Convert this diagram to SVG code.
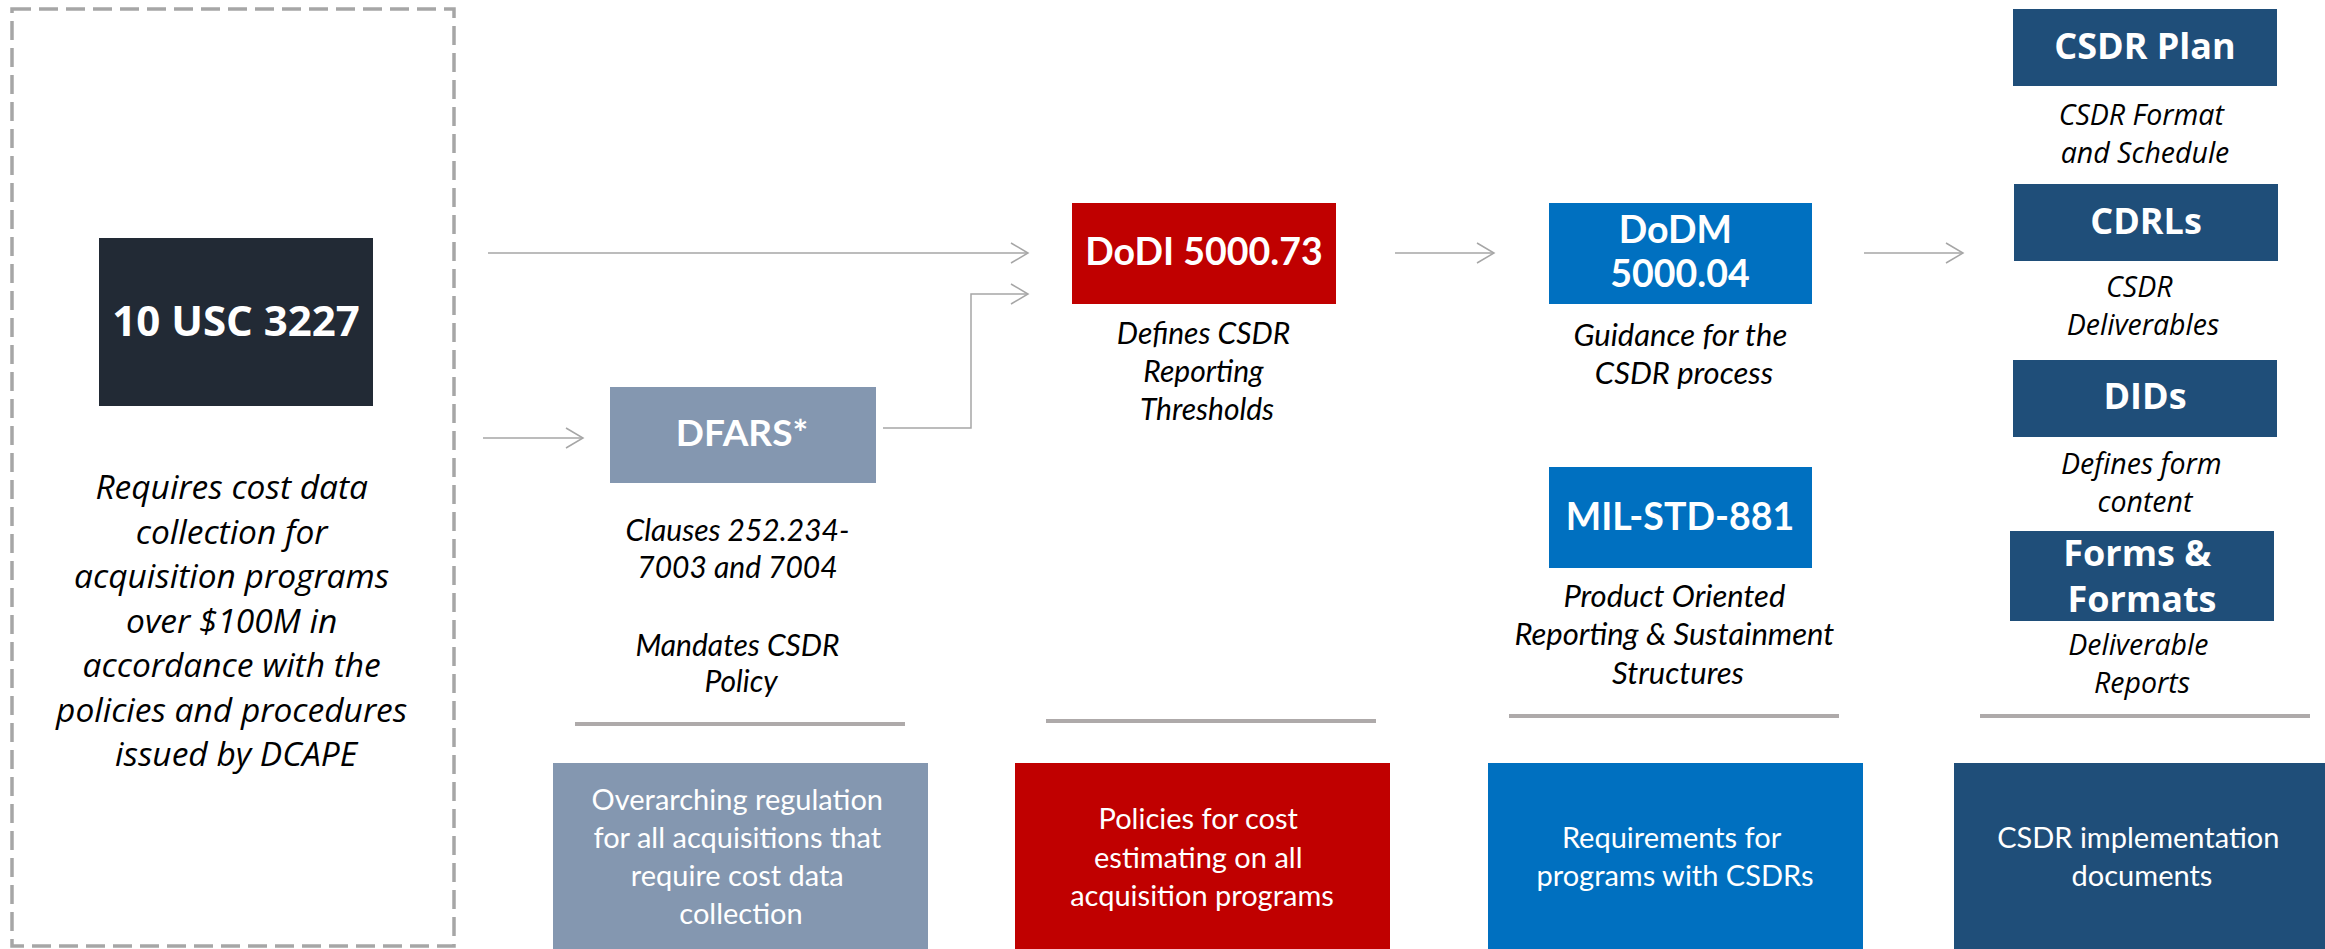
<svg xmlns="http://www.w3.org/2000/svg" width="2325" height="949" viewBox="0 0 2325 949">
<style>
.os{font-family:"Open Sans","DejaVu Sans",sans-serif;}
.ca{font-family:Lato,"Liberation Sans",sans-serif;}
.tb{font-weight:bold;fill:#ffffff;text-anchor:middle;}
.ti{font-style:italic;fill:#000000;text-anchor:middle;}
.tw{fill:#ffffff;text-anchor:middle;}
.conn{fill:none;stroke:#a6a6a6;stroke-width:1.5;}
.sep{stroke:#aeaaaa;stroke-width:4;}
</style>
<defs>
<marker id="arr" markerUnits="userSpaceOnUse" markerWidth="22" markerHeight="24" refX="19" refY="12" orient="auto">
<path d="M2,2 L19,12 L2,22" fill="none" stroke="#a6a6a6" stroke-width="1.5"/>
</marker>
</defs>
<g id="law-frame">
<rect x="12" y="9" width="442" height="937" fill="none" stroke="#a6a6a6" stroke-width="3.5" stroke-dasharray="19 8"/>
</g>
<g id="usc">
<rect x="99" y="238" width="274" height="168" fill="#222a35"/>
<text class="os tb" x="236" y="336" font-size="42">10 USC 3227</text>
<text class="os ti" font-size="33.5">
<tspan x="236" y="499">Requires cost data</tspan>
<tspan x="236" y="543.5">collection for</tspan>
<tspan x="236" y="588">acquisition programs</tspan>
<tspan x="236" y="632.5">over $100M in</tspan>
<tspan x="236" y="677">accordance with the</tspan>
<tspan x="236" y="721.5">policies and procedures</tspan>
<tspan x="236" y="766">issued by DCAPE</tspan>
</text>
</g>
<g id="dfars">
<rect x="610" y="387" width="266" height="96" fill="#8497b0"/>
<text class="ca tb" x="742" y="446" font-size="37">DFARS*</text>
<text class="ca ti" font-size="30">
<tspan x="741" y="541">Clauses 252.234-</tspan>
<tspan x="741" y="578">7003 and 7004</tspan>
<tspan x="741" y="656">Mandates CSDR</tspan>
<tspan x="741" y="692">Policy</tspan>
</text>
</g>
<g id="dodi">
<rect x="1072" y="203" width="264" height="101" fill="#c00000"/>
<text class="ca tb" x="1204" y="265" font-size="37.5">DoDI 5000.73</text>
<text class="ca ti" font-size="30">
<tspan x="1207" y="344">Defines CSDR</tspan>
<tspan x="1207" y="382">Reporting</tspan>
<tspan x="1207" y="420">Thresholds</tspan>
</text>
</g>
<g id="dodm">
<rect x="1549" y="203" width="263" height="101" fill="#0070c0"/>
<text class="ca tb" font-size="37.5">
<tspan x="1680" y="243">DoDM</tspan>
<tspan x="1680" y="287">5000.04</tspan>
</text>
<text class="ca ti" font-size="31">
<tspan x="1684" y="346">Guidance for the</tspan>
<tspan x="1684" y="384">CSDR process</tspan>
</text>
</g>
<g id="milstd">
<rect x="1549" y="467" width="263" height="101" fill="#0070c0"/>
<text class="ca tb" x="1680" y="530" font-size="37.5">MIL-STD-881</text>
<text class="ca ti" font-size="31">
<tspan x="1678" y="607">Product Oriented</tspan>
<tspan x="1678" y="645">Reporting &amp; Sustainment</tspan>
<tspan x="1678" y="684">Structures</tspan>
</text>
</g>
<g id="csdr-plan">
<rect x="2013" y="9" width="264" height="77" fill="#1f4e79"/>
<text class="os tb" x="2145" y="59" font-size="36">CSDR Plan</text>
<text class="os ti" font-size="28.5">
<tspan x="2145" y="125">CSDR Format</tspan>
<tspan x="2145" y="163">and Schedule</tspan>
</text>
</g>
<g id="cdrls">
<rect x="2014" y="184" width="264" height="77" fill="#1f4e79"/>
<text class="os tb" x="2146" y="234" font-size="36">CDRLs</text>
<text class="os ti" font-size="28.5">
<tspan x="2143" y="297">CSDR</tspan>
<tspan x="2143" y="335">Deliverables</tspan>
</text>
</g>
<g id="dids">
<rect x="2013" y="360" width="264" height="77" fill="#1f4e79"/>
<text class="os tb" x="2145" y="409" font-size="36">DIDs</text>
<text class="os ti" font-size="28.5">
<tspan x="2145" y="474">Defines form</tspan>
<tspan x="2145" y="512">content</tspan>
</text>
</g>
<g id="forms">
<rect x="2010" y="531" width="264" height="90" fill="#1f4e79"/>
<text class="os tb" font-size="36">
<tspan x="2142" y="566">Forms &amp;</tspan>
<tspan x="2142" y="612">Formats</tspan>
</text>
<text class="os ti" font-size="28.5">
<tspan x="2142" y="655">Deliverable</tspan>
<tspan x="2142" y="693">Reports</tspan>
</text>
</g>
<g id="separators">
<line class="sep" x1="575" y1="724" x2="905" y2="724"/>
<line class="sep" x1="1046" y1="721" x2="1376" y2="721"/>
<line class="sep" x1="1509" y1="716" x2="1839" y2="716"/>
<line class="sep" x1="1980" y1="716" x2="2310" y2="716"/>
</g>
<g id="summary-regulation">
<rect x="553" y="763" width="375" height="186" fill="#8497b0"/>
<text class="ca tw" font-size="29">
<tspan x="741" y="810">Overarching regulation</tspan>
<tspan x="741" y="848">for all acquisitions that</tspan>
<tspan x="741" y="886">require cost data</tspan>
<tspan x="741" y="924">collection</tspan>
</text>
</g>
<g id="summary-policies">
<rect x="1015" y="763" width="375" height="186" fill="#c00000"/>
<text class="ca tw" font-size="29">
<tspan x="1202" y="829">Policies for cost</tspan>
<tspan x="1202" y="867.5">estimating on all</tspan>
<tspan x="1202" y="906">acquisition programs</tspan>
</text>
</g>
<g id="summary-requirements">
<rect x="1488" y="763" width="375" height="186" fill="#0070c0"/>
<text class="ca tw" font-size="29">
<tspan x="1675" y="848">Requirements for</tspan>
<tspan x="1675" y="886">programs with CSDRs</tspan>
</text>
</g>
<g id="summary-implementation">
<rect x="1954" y="763" width="371" height="186" fill="#1f4e79"/>
<text class="ca tw" font-size="29">
<tspan x="2142" y="848">CSDR implementation</tspan>
<tspan x="2142" y="886">documents</tspan>
</text>
</g>
<g id="connectors">
<path class="conn" d="M488,253 H1028" marker-end="url(#arr)"/>
<path class="conn" d="M483,438 H583" marker-end="url(#arr)"/>
<path class="conn" d="M883,428 H971 V294 H1028" marker-end="url(#arr)"/>
<path class="conn" d="M1395,253 H1494" marker-end="url(#arr)"/>
<path class="conn" d="M1864,253 H1963" marker-end="url(#arr)"/>
</g>
</svg>
